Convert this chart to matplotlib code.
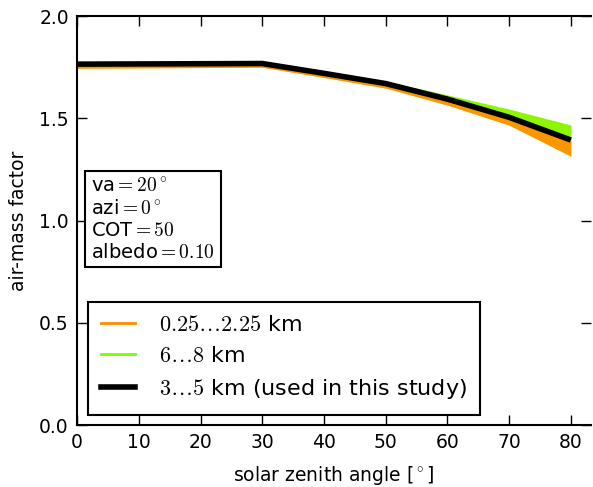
import matplotlib
matplotlib.use('Agg')
import matplotlib.pyplot as plt
from matplotlib.lines import Line2D
import numpy as np

# solar zenith angles [deg]
sza = [0, 30, 40, 50, 60, 70, 80]

# air-mass factors for the different cloud heights
amf_025 = [1.745, 1.750, 1.700, 1.648, 1.565, 1.467, 1.315]   # 0.25 km
amf_225 = [1.760, 1.765, 1.715, 1.665, 1.590, 1.500, 1.385]   # 2.25 km
amf_6 = [1.768, 1.772, 1.725, 1.675, 1.600, 1.515, 1.405]     # 6 km
amf_8 = [1.772, 1.778, 1.730, 1.682, 1.614, 1.545, 1.467]     # 8 km
amf_mid = [1.765, 1.768, 1.720, 1.670, 1.594, 1.505, 1.394]   # 3...5 km

legend_labels = [r'$0.25\ldots2.25$ km', r'$6\ldots8$ km',
                 r'$3\ldots5$ km (used in this study)']
info_text = '\n'.join([r'va$=20^\circ$', r'azi$=0^\circ$',
                       r'COT$=50$', r'albedo$=0.10$'])

plt.rcParams['font.family'] = 'DejaVu Sans'
plt.rcParams['mathtext.fontset'] = 'cm'
plt.rcParams['xtick.direction'] = 'in'
plt.rcParams['ytick.direction'] = 'in'
plt.rcParams['xtick.top'] = True
plt.rcParams['ytick.right'] = True

fig = plt.figure(figsize=(5.93, 4.87), dpi=100)
ax = fig.add_axes([0.130, 0.127, 0.867, 0.840])

orange = '#ff8c00'
green = '#7cfc00'

ax.fill_between(sza, amf_025, amf_mid, color='#f5a800', lw=0)
ax.fill_between(sza, amf_025, amf_225, color=orange, lw=0, alpha=0.6)
ax.fill_between(sza, amf_mid, amf_8, color='#a4f000', lw=0)
ax.fill_between(sza, amf_6, amf_8, color=green, lw=0, alpha=0.6)
ax.plot(sza, amf_mid, color='black', lw=4, solid_capstyle='butt')

ax.set_xlim(0, 83.3)
ax.set_ylim(0, 2.0)
ax.set_xticks(np.arange(0, 81, 10))
ax.set_yticks([0.0, 0.5, 1.0, 1.5, 2.0])
ax.tick_params(length=7, width=1, labelsize=13.5, pad=6)
for s in ax.spines.values():
    s.set_linewidth(1.5)
ax.spines['right'].set_visible(False)

ax.set_xlabel(r'solar zenith angle [$^\circ$]', fontsize=13.5, labelpad=8)
ax.set_ylabel('air-mass factor', fontsize=13.5, labelpad=8)

ax.text(2.3, 1.215, info_text, fontsize=14, va='top', ha='left',
        linespacing=1.2,
        bbox=dict(boxstyle='square,pad=0.3', fc='white', ec='black', lw=1.5))

handles = [Line2D([], [], color=orange, lw=2),
           Line2D([], [], color=green, lw=2),
           Line2D([], [], color='black', lw=4)]
leg = ax.legend(handles, legend_labels, loc='lower left',
                bbox_to_anchor=(0.012, 0.015), fontsize=16, fancybox=False,
                handlelength=1.55, handletextpad=1.05, borderpad=0.6,
                labelspacing=0.5, borderaxespad=0.2)
leg.get_frame().set_edgecolor('black')
leg.get_frame().set_linewidth(1.5)
leg.get_frame().set_alpha(1)

fig.savefig('out.png', dpi=100)
